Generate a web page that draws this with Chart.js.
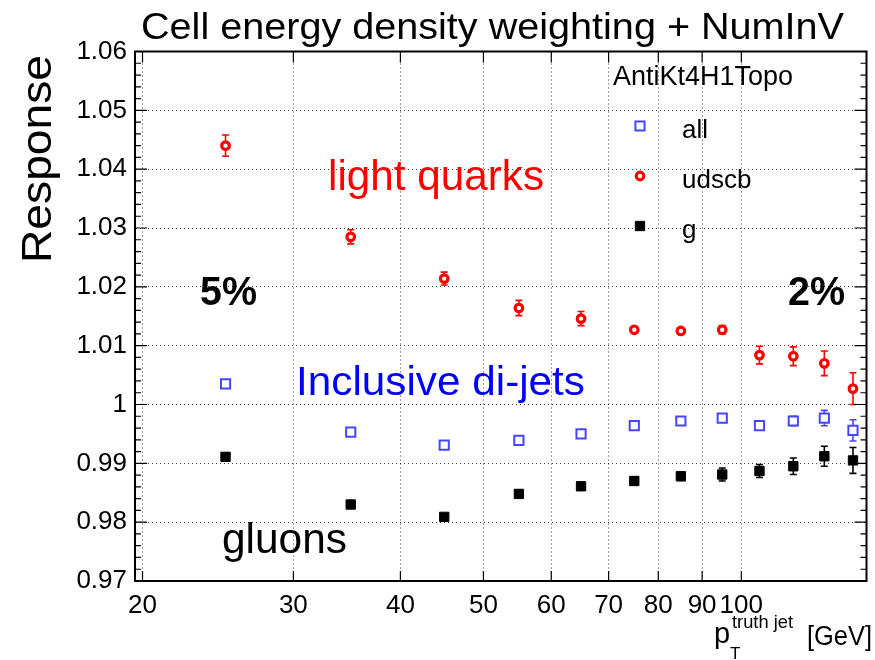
<!DOCTYPE html>
<html>
<head>
<meta charset="utf-8">
<script src="https://cdn.jsdelivr.net/npm/chart.js@4/dist/chart.umd.min.js"></script>
<style>
html,body{margin:0;padding:0;background:#fff;}
#wrap{width:875px;height:660px;position:relative;}
</style>
</head>
<body>
<div id="wrap"><canvas id="c" width="875" height="660"></canvas></div>
<script>
// ---- data ----
const ptBins = [25, 35, 45, 55, 65, 75, 85, 95, 105, 115, 125, 135];
const respAll   = [1.0035, 0.9953, 0.9931, 0.9939, 0.9950, 0.9964, 0.9972, 0.9977, 0.9964, 0.9972, 0.9977, 0.9956];
const errAll    = [0.0003, 0.0003, 0.0003, 0.0003, 0.0004, 0.0004, 0.0005, 0.0005, 0.0005, 0.0008, 0.0013, 0.0018];
const respUdscb = [1.0440, 1.0285, 1.0214, 1.0164, 1.0146, 1.0127, 1.0125, 1.0127, 1.0084, 1.0082, 1.0070, 1.0027];
const errUdscb  = [0.0018, 0.0012, 0.0011, 0.0013, 0.0012, 0.0005, 0.0005, 0.0007, 0.0015, 0.0016, 0.0021, 0.0027];
const respG     = [0.9911, 0.9830, 0.9809, 0.9848, 0.9861, 0.9870, 0.9878, 0.9881, 0.9887, 0.9895, 0.9912, 0.9905];
const errG      = [0.0006, 0.0003, 0.0003, 0.0003, 0.0004, 0.0005, 0.0007, 0.0011, 0.0011, 0.0014, 0.0017, 0.0022];
const xTickValues = [20, 30, 40, 50, 60, 70, 80, 90, 100];
const yTickValues = [0.97, 0.98, 0.99, 1.00, 1.01, 1.02, 1.03, 1.04, 1.05, 1.06];
const seriesNames = ['all', 'udscb', 'g'];
const titleText = 'Cell energy density weighting + NumInV';
const yTitle = 'Response';
const jetAlgo = 'AntiKt4H1Topo';

const FONT = "'Liberation Sans', Arial, Helvetica, sans-serif";
Chart.defaults.font.family = FONT;

const styles = [
  {color: '#4646ff', pointStyle: 'rect',   radius: 6.5, borderWidth: 2,   bg: '#ffffff'},
  {color: '#ff0000', pointStyle: 'circle', radius: 3.8, borderWidth: 3.2, bg: '#ffffff'},
  {color: '#000000', pointStyle: 'rect',   radius: 6.6, borderWidth: 1,   bg: '#000000'}
];
const values = [respAll, respUdscb, respG];
const errors = [errAll, errUdscb, errG];

const datasets = seriesNames.map((name, k) => ({
  label: name,
  data: ptBins.map((x, i) => ({x: x, y: values[k][i]})),
  errors: errors[k],
  showLine: false,
  pointStyle: styles[k].pointStyle,
  pointRadius: styles[k].radius,
  pointBorderWidth: styles[k].borderWidth,
  borderColor: styles[k].color,
  backgroundColor: styles[k].bg,
  pointBackgroundColor: styles[k].bg,
  pointBorderColor: styles[k].color
}));

function fitText(ctx, text, x, y, size, weight, color, width, rot) {
  ctx.save();
  ctx.font = (weight ? weight + ' ' : '') + size + 'px ' + FONT;
  ctx.fillStyle = color;
  ctx.textBaseline = 'alphabetic';
  ctx.textAlign = 'left';
  const w = ctx.measureText(text).width;
  const sx = width ? width / w : 1;
  ctx.translate(x, y);
  if (rot) ctx.rotate(rot);
  ctx.scale(sx, 1);
  ctx.fillText(text, 0, 0);
  ctx.restore();
}

const bgPlugin = {
  id: 'bg',
  beforeDraw(c) {
    const ctx = c.ctx;
    ctx.save();
    ctx.fillStyle = '#fff';
    ctx.fillRect(0, 0, c.width, c.height);
    ctx.restore();
  }
};

const errPlugin = {
  id: 'errbars',
  beforeDatasetsDraw(c) {
    const ctx = c.ctx, xs = c.scales.x, ys = c.scales.y;
    c.data.datasets.forEach(ds => {
      ctx.save();
      ctx.strokeStyle = ds.borderColor;
      ctx.lineWidth = 1.6;
      ds.data.forEach((p, i) => {
        const e = ds.errors[i];
        const px = xs.getPixelForValue(p.x);
        const y1 = ys.getPixelForValue(p.y - e);
        const y2 = ys.getPixelForValue(p.y + e);
        ctx.beginPath();
        ctx.moveTo(px, y1); ctx.lineTo(px, y2);
        ctx.moveTo(px - 3.5, y1); ctx.lineTo(px + 3.5, y1);
        ctx.moveTo(px - 3.5, y2); ctx.lineTo(px + 3.5, y2);
        ctx.stroke();
      });
      ctx.restore();
    });
  }
};

const framePlugin = {
  id: 'frame',
  afterDraw(c) {
    const ctx = c.ctx, a = c.chartArea, xs = c.scales.x, ys = c.scales.y;
    ctx.save();
    ctx.strokeStyle = '#000';
    // y ticks (major & minor), both sides
    ctx.lineWidth = 1.2;
    for (let k = 0; k <= 45; k++) {
      const v = 0.97 + k * 0.002;
      const py = ys.getPixelForValue(v);
      const major = (k % 5 === 0);
      const len = major ? 12 : 6;
      ctx.beginPath();
      ctx.moveTo(a.left, py); ctx.lineTo(a.left + len, py);
      ctx.moveTo(a.right, py); ctx.lineTo(a.right - len, py);
      ctx.stroke();
    }
    // x ticks, top and bottom
    xTickValues.forEach(v => {
      const px = xs.getPixelForValue(v);
      ctx.beginPath();
      ctx.moveTo(px, a.bottom); ctx.lineTo(px, a.bottom - 10);
      ctx.moveTo(px, a.top); ctx.lineTo(px, a.top + 11);
      ctx.stroke();
    });
    // frame
    ctx.lineWidth = 2;
    ctx.strokeRect(a.left, a.top, a.right - a.left, a.bottom - a.top);
    ctx.restore();

    // texts
    fitText(ctx, titleText, 141, 39, 37, '', '#000', 703);
    fitText(ctx, yTitle, 51, 263, 43, '', '#000', 208, -Math.PI / 2);
    fitText(ctx, jetAlgo, 613, 85, 27, '', '#000', 180);
    // legend
    const legY = [126, 176, 226];
    seriesNames.forEach((n, k) => {
      ctx.save();
      ctx.fillStyle = styles[k].bg;
      ctx.strokeStyle = styles[k].color;
      ctx.lineWidth = styles[k].borderWidth;
      Chart.helpers.drawPoint(ctx, {pointStyle: styles[k].pointStyle, radius: styles[k].radius, borderWidth: styles[k].borderWidth, rotation: 0}, 640, legY[k]);
      ctx.restore();
      fitText(ctx, n, 682, legY[k] + 12, 26, '', '#000', 0);
    });
    // annotations
    fitText(ctx, 'light quarks', 328, 190, 42, '', '#ff0000', 216);
    fitText(ctx, '5%', 200, 305, 40, 'bold', '#000', 57);
    fitText(ctx, '2%', 788, 305, 40, 'bold', '#000', 57);
    fitText(ctx, 'Inclusive di-jets', 296, 395, 41, '', '#0000ff', 289);
    fitText(ctx, 'gluons', 222, 553, 42, '', '#000', 125);
    // x axis title
    fitText(ctx, 'p', 714, 643, 29, '', '#000', 0);
    fitText(ctx, 'T', 730, 659, 17, '', '#000', 0);
    fitText(ctx, 'truth jet', 732, 628, 19, '', '#000', 61);
    fitText(ctx, '[GeV]', 807, 645, 27, '', '#000', 65);
  }
};

new Chart(document.getElementById('c'), {
  type: 'scatter',
  data: {datasets: datasets},
  options: {
    responsive: false,
    animation: false,
    layout: {padding: {top: 51.5, right: 1, bottom: 0, left: 0}},
    plugins: {legend: {display: false}, tooltip: {enabled: false}, title: {display: false}},
    scales: {
      x: {
        type: 'logarithmic',
        min: 19.6,
        max: 140,
        afterBuildTicks: s => { s.ticks = xTickValues.map(v => ({value: v})); },
        afterFit: s => { s.height = 79; },
        ticks: {
          autoSkip: false, maxRotation: 0, minRotation: 0,
          color: '#000', font: {size: 26}, padding: 9,
          callback: v => String(v)
        },
        grid: {display: true, drawTicks: false, color: 'rgba(0,0,0,0.75)', lineWidth: 1},
        border: {display: true, color: '#000', width: 2, dash: [1, 3]}
      },
      y: {
        type: 'linear',
        min: 0.97,
        max: 1.06,
        afterBuildTicks: s => { s.ticks = yTickValues.map(v => ({value: v})); },
        afterFit: s => { s.width = 135; },
        ticks: {
          color: '#000', font: {size: 26}, padding: 8,
          callback: v => (Math.abs(v - 1) < 1e-9 ? '1' : v.toFixed(2))
        },
        grid: {display: true, drawTicks: false, color: 'rgba(0,0,0,0.75)', lineWidth: 1},
        border: {display: true, color: '#000', width: 2, dash: [1, 3]}
      }
    }
  },
  plugins: [bgPlugin, errPlugin, framePlugin]
});
</script>
</body>
</html>
